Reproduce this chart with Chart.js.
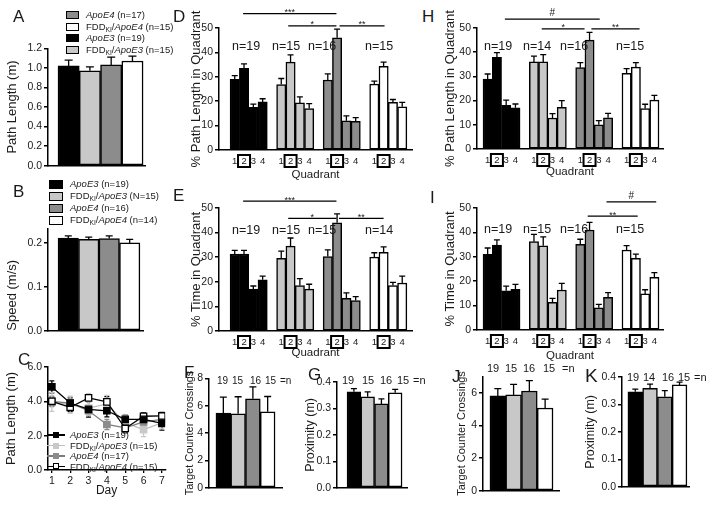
<!DOCTYPE html>
<html>
<head>
<meta charset="utf-8">
<script src="https://cdn.jsdelivr.net/npm/chart.js@4.4.1/dist/chart.umd.min.js"></script>
<style>
  body { margin: 0; width: 714px; height: 507px; background: #fff; position: relative; overflow: hidden;
         font-family: "Liberation Sans", Arial, sans-serif; color: #1a1a1a; }
  canvas { position: absolute; }
  .t { position: absolute; white-space: nowrap; line-height: 1; }
  .lg { position: absolute; font-size: 9.5px; white-space: nowrap; }
  .row { display: flex; align-items: center; }
  .row > span:last-child { line-height: 1; }
  .sw { display: inline-block; box-sizing: border-box; border: 1.5px solid #000; }
  sub { font-size: 70%; vertical-align: -0.3em; line-height: 0; }
  .lm { position: relative; display: inline-block; width: 18px; height: 8px; margin-right: 5px; }
  .lm i { position: absolute; left: 0; right: 0; top: 3.3px; height: 1.4px; }
  .lm b { position: absolute; left: 6px; top: 1px; width: 6px; height: 6px; box-sizing: border-box; border: 1.3px solid; }
</style>
</head>
<body>
<canvas id="cA" width="142" height="134" style="left:5px;top:40px"></canvas>
<canvas id="cB" width="140" height="119" style="left:5px;top:220px"></canvas>
<canvas id="cC" width="167" height="143" style="left:4px;top:355px"></canvas>
<canvas id="cD" width="225" height="182" style="left:189px;top:0px"></canvas>
<canvas id="cE" width="225" height="173" style="left:189px;top:187px"></canvas>
<canvas id="cF" width="101" height="126" style="left:183px;top:370px"></canvas>
<canvas id="cG" width="106" height="124" style="left:303px;top:372px"></canvas>
<canvas id="cH" width="222" height="179" style="left:443px;top:0px"></canvas>
<canvas id="cI" width="222" height="176" style="left:443px;top:187px"></canvas>
<canvas id="cJ" width="106" height="131" style="left:455px;top:368px"></canvas>
<canvas id="cK" width="108" height="127" style="left:583px;top:368px"></canvas>

<div class="lg" style="left:66px;top:9px">
  <div class="row" style="height:11.7px"><span class="sw" style="width:13px;height:8px;background:#8c8c8c;margin-right:7px"></span><span><i>ApoE4</i>&nbsp;(n=17)</span></div>
  <div class="row" style="height:11.7px"><span class="sw" style="width:13px;height:8px;background:#fff;margin-right:7px"></span><span>FDD<sub>KI</sub>/<i>ApoE4</i>&nbsp;(n=15)</span></div>
  <div class="row" style="height:11.7px"><span class="sw" style="width:13px;height:8px;background:#000;margin-right:7px"></span><span><i>ApoE3</i>&nbsp;(n=19)</span></div>
  <div class="row" style="height:11.7px"><span class="sw" style="width:13px;height:8px;background:#c8c8c8;margin-right:7px"></span><span>FDD<sub>KI</sub>/<i>ApoE3</i>&nbsp;(n=15)</span></div>
</div>
<div class="lg" style="left:49px;top:178px">
  <div class="row" style="height:12px"><span class="sw" style="width:14px;height:9px;background:#000;margin-right:7px"></span><span><i>ApoE3</i>&nbsp;(n=19)</span></div>
  <div class="row" style="height:12px"><span class="sw" style="width:14px;height:9px;background:#c8c8c8;margin-right:7px"></span><span>FDD<sub>KI</sub>/<i>ApoE3</i>&nbsp;(N=15)</span></div>
  <div class="row" style="height:12px"><span class="sw" style="width:14px;height:9px;background:#8c8c8c;margin-right:7px"></span><span><i>ApoE4</i>&nbsp;(n=16)</span></div>
  <div class="row" style="height:12px"><span class="sw" style="width:14px;height:9px;background:#fff;margin-right:7px"></span><span>FDD<sub>KI</sub>/<i>ApoE4</i>&nbsp;(n=14)</span></div>
</div>
<div class="lg" style="left:47px;top:430px">
  <div class="row" style="height:10.4px"><span class="lm"><i style="background:#000"></i><b style="background:#000;border-color:#000"></b></span><span><i>ApoE3</i>&nbsp;(n=19)</span></div>
  <div class="row" style="height:10.4px"><span class="lm"><i style="background:#bdbdbd"></i><b style="background:#c8c8c8;border-color:#c8c8c8"></b></span><span>FDD<sub>KI</sub>/<i>ApoE3</i>&nbsp;(n=15)</span></div>
  <div class="row" style="height:10.4px"><span class="lm"><i style="background:#7d7d7d"></i><b style="background:#8c8c8c;border-color:#8c8c8c"></b></span><span><i>ApoE4</i>&nbsp;(n=17)</span></div>
  <div class="row" style="height:10.4px"><span class="lm"><i style="background:#000"></i><b style="background:#fff;border-color:#000"></b></span><span>FDD<sub>KI</sub>/<i>ApoE4</i>&nbsp;(n=15)</span></div>
</div>

<script>
  "use strict";
  // groups, in bar order
  const groups = ["ApoE3", "FDDKI/ApoE3", "ApoE4", "FDDKI/ApoE4"];
  const groupColors = ["#000000", "#c8c8c8", "#8c8c8c", "#ffffff"];
  const quadrants = ["1", "2", "3", "4"];

  // A: path length (m)
  const pathLenA = [1.02, 0.97, 1.03, 1.07];
  const pathLenAErr = [0.06, 0.04, 0.08, 0.05];
  // B: speed (m/s)
  const speedB = [0.211, 0.208, 0.21, 0.2];
  const speedBErr = [0.005, 0.005, 0.006, 0.008];

  // C: path length per training day
  const days = [1, 2, 3, 4, 5, 6, 7];
  const dayApoE3 = [4.84, 3.9, 3.53, 3.45, 2.95, 2.95, 2.72];
  const dayApoE3Err = [0.35, 0.3, 0.45, 0.35, 0.25, 0.3, 0.4];
  const dayFddE3 = [3.97, 3.8, 3.6, 3.85, 2.75, 2.35, 2.75];
  const dayFddE3Err = [0.55, 0.5, 0.4, 0.5, 0.45, 0.4, 0.35];
  const dayApoE4 = [4.0, 3.9, 3.45, 2.65, 2.45, 2.8, 2.95];
  const dayApoE4Err = [0.3, 0.35, 0.3, 0.3, 0.3, 0.35, 0.3];
  const dayFddE4 = [4.0, 3.65, 4.2, 3.97, 2.42, 3.13, 3.15];
  const dayFddE4Err = [0.25, 0.25, 0.2, 0.3, 0.25, 0.2, 0.2];

  // D/E/H/I: quadrant 1-4 per group
  const pathQuadD = [29, 33.5, 17.5, 19.7, 26.8, 36, 19.3, 17, 28.7, 46, 12, 11.8, 27, 34.3, 19.5, 17.7];
  const pathQuadDErr = [1.5, 1.8, 1.3, 1.3, 2.5, 3, 2.5, 2, 2.5, 3.5, 2, 1.5, 1.2, 1.7, 1.2, 1.8];
  const timeQuadE = [31.3, 31.3, 17, 20.8, 29.5, 34.5, 18.5, 17, 30.3, 44, 13.3, 12.4, 30, 32, 18.5, 19.5];
  const timeQuadEErr = [1.5, 1.5, 1.3, 1.5, 3, 3.3, 2.8, 2, 2.7, 3.6, 2.2, 1.6, 1.8, 2.2, 1.3, 2.8];
  const pathQuadH = [28.9, 37.9, 18, 17, 36, 36, 12.8, 17.2, 33.6, 45, 10, 12.9, 31.3, 33.8, 16.7, 20.2];
  const pathQuadHErr = [2.1, 1.9, 2.2, 1.6, 2.4, 3, 1.8, 2.8, 2.1, 3.2, 1.7, 1.8, 1.9, 1.9, 1.8, 2];
  const timeQuadI = [31, 34.8, 16.1, 16.7, 36.2, 34.5, 11.3, 16.4, 35.1, 41, 9.1, 13.4, 32.8, 29.4, 14.8, 21.6];
  const timeQuadIErr = [2.6, 2.1, 1.9, 2, 3, 3.7, 1.7, 2.7, 2.1, 3.1, 1.4, 1.9, 1.8, 1.7, 1.7, 1.9];

  // F/J: target counter crossings, G/K: proximity (m)
  const crossF = [5.45, 5.4, 6.5, 5.55];
  const crossFErr = [1.18, 1.25, 0.87, 1.12];
  const proxG = [0.363, 0.344, 0.317, 0.359];
  const proxGErr = [0.012, 0.019, 0.019, 0.013];
  const crossJ = [5.8, 5.86, 6.1, 5.06];
  const crossJErr = [0.45, 0.64, 0.64, 0.54];
  const proxK = [0.346, 0.359, 0.328, 0.371];
  const proxKErr = [0.01, 0.015, 0.022, 0.01];

  // group sizes
  const nD = ["n=19", "n=15", "n=16", "n=15"];
  const nE = ["n=19", "n=15", "n=15", "n=14"];
  const nH = ["n=19", "n=14", "n=16", "n=15"];
  const nI = ["n=19", "n=15", "n=16", "n=15"];
  const nF = ["19", "15", "16", "15", "=n"];
  const nG = ["19", "15", "16", "15", "=n"];
  const nJ = ["19", "15", "16", "15", "=n"];
  const nK = ["19", "14", "16", "15", "=n"];

  // significance brackets (bar slot from/to, y level in axis units)
  const sigMarks = {
    cD: [{ from: 0.9, to: 10.93, level: 55.9, mark: "***" }, { from: 5.75, to: 10.93, level: 50.9, mark: "*" }, { from: 11.26, to: 16.1, level: 50.9, mark: "**" }],
    cE: [{ from: 0.9, to: 10.93, level: 52.8, mark: "***" }, { from: 5.75, to: 10.93, level: 45.8, mark: "*" }, { from: 11.2, to: 16.0, level: 45.8, mark: "**" }],
    cH: [{ from: 1.86, to: 12.1, level: 53.7, mark: "#" }, { from: 5.84, to: 10.46, level: 49.6, mark: "*" }, { from: 11.2, to: 16.4, level: 49.6, mark: "**" }],
    cI: [{ from: 12.83, to: 18.2, level: 52.5, mark: "#" }, { from: 10.8, to: 16.2, level: 46.7, mark: "**" }]
  };

  Chart.defaults.font.family = "'Liberation Sans', Arial, sans-serif";
  Chart.defaults.color = "#1a1a1a";

  function drawErr(chart) {
    const ctx = chart.ctx;
    const ys = chart.scales.y;
    chart.data.datasets.forEach((ds, di) => {
      if (!ds.err) return;
      const meta = chart.getDatasetMeta(di);
      ctx.save();
      ctx.strokeStyle = ds.errColor || "#000";
      ctx.lineWidth = 1.3;
      meta.data.forEach((el, i) => {
        const v = ds.data[i].y;
        const e = ds.err[i];
        const top = ys.getPixelForValue(v + e);
        const bot = ds.errBoth ? ys.getPixelForValue(v - e) : el.y;
        const h = (ds.cap || 6) / 2;
        ctx.beginPath();
        ctx.moveTo(el.x, bot);
        ctx.lineTo(el.x, top);
        ctx.moveTo(el.x - h, top);
        ctx.lineTo(el.x + h, top);
        if (ds.errBoth) {
          ctx.moveTo(el.x - h, bot);
          ctx.lineTo(el.x + h, bot);
        }
        ctx.stroke();
      });
      ctx.restore();
    });
  }

  const errorBars = {
    id: "errorBars",
    beforeDatasetsDraw(chart, args, opts) { if (opts.under) drawErr(chart); },
    afterDatasetsDraw(chart, args, opts) { if (!opts.under) drawErr(chart); }
  };

  const sigLines = {
    id: "sigLines",
    afterDraw(chart) {
      const list = sigMarks[chart.canvas.id];
      if (!list) return;
      const { ctx, scales: { x, y } } = chart;
      ctx.save();
      ctx.strokeStyle = "#000";
      ctx.lineWidth = 1.2;
      ctx.fillStyle = "#1a1a1a";
      ctx.textAlign = "center";
      list.forEach((s) => {
        const x1 = x.getPixelForValue(s.from);
        const x2 = x.getPixelForValue(s.to);
        const py = y.getPixelForValue(s.level);
        ctx.beginPath();
        ctx.moveTo(x1, py);
        ctx.lineTo(x2, py);
        ctx.stroke();
        const hash = s.mark.includes("#");
        ctx.font = (hash ? "10px" : "9px") + " 'Liberation Sans', Arial";
        ctx.fillText(s.mark, (x1 + x2) / 2, py + (hash ? -3 : 1.5));
      });
      ctx.restore();
    }
  };

  // quadrant numbers under the bars, target quadrant boxed
  const quadLabels = {
    id: "quadLabels",
    afterDraw(chart) {
      const xs = chart.scales.x;
      const ctx = chart.ctx;
      const cy = xs.top + 11;
      ctx.save();
      ctx.strokeStyle = "#000";
      ctx.fillStyle = "#1a1a1a";
      ctx.lineWidth = 2;
      ctx.font = "9.5px 'Liberation Sans', Arial";
      ctx.textAlign = "center";
      ctx.textBaseline = "middle";
      xs.ticks.forEach((t, i) => {
        const px = xs.getPixelForTick(i);
        const lab = quadrants[t.value % 5];
        ctx.fillText(lab, px, cy + 0.5);
        if (lab === "2") ctx.strokeRect(px - 6, cy - 6, 12, 12);
      });
      ctx.restore();
    }
  };

  function barPanel(id, o) {
    const isQuad = o.values.length > 4;
    const slots = o.values.map((v, i) => (isQuad ? Math.floor(i / 4) * 5 + (i % 4) : i));
    const pts = o.values.map((v, i) => ({ x: slots[i], y: v }));
    const plugins = [errorBars, sigLines];
    if (isQuad) plugins.push(quadLabels);
    return new Chart(document.getElementById(id), {
      type: "bar",
      data: {
        datasets: [{
          data: pts,
          err: o.errors,
          cap: o.cap || 6,
          backgroundColor: o.values.map((v, i) => groupColors[isQuad ? Math.floor(i / 4) : i]),
          borderColor: "#000",
          borderWidth: 1.5,
          borderSkipped: false,
          barPercentage: 1,
          categoryPercentage: 1
        }]
      },
      options: {
        responsive: false,
        animation: false,
        devicePixelRatio: 1,
        events: [],
        layout: { padding: { top: o.padTop, right: 2, bottom: isQuad ? 0 : 7, left: 0 } },
        plugins: { legend: { display: false }, tooltip: { enabled: false } },
        scales: {
          x: {
            type: "linear",
            offset: false,
            min: o.xMin,
            max: o.xMax,
            grid: { display: false, drawTicks: false },
            border: { color: "#000", width: 1.5 },
            afterBuildTicks: (s) => { s.ticks = slots.map((v) => ({ value: v })); },
            ticks: { display: false },
            title: { display: isQuad, text: "Quadrant", font: { size: 11.5 }, color: "#1a1a1a", padding: 0 },
            afterFit: (s) => { s.height = isQuad ? o.xHeight : 0; }
          },
          y: {
            min: 0,
            max: o.yMax,
            afterBuildTicks: (s) => { s.ticks = o.yTicks.map((v) => ({ value: v })); },
            grid: { drawOnChartArea: false, tickLength: 4, color: "#000", lineWidth: 1.5 },
            border: { color: "#000", width: 1.5 },
            ticks: { padding: 2, font: { size: 10.5 }, color: "#1a1a1a", callback: (v) => v.toFixed(o.dec) },
            title: { display: true, text: o.yTitle, align: o.titleAlign || "center", font: { size: o.titleSize || 13 },
                     color: "#1a1a1a", padding: 0 },
            afterFit: (s) => { s.width = o.yWidth; }
          }
        }
      },
      plugins
    });
  }

  const quadTicks = [0, 10, 20, 30, 40, 50];
  barPanel("cA", { values: pathLenA, errors: pathLenAErr, cap: 8, xMin: -0.97, xMax: 3.59, yMax: 1.2,
    yTicks: [0, 0.2, 0.4, 0.6, 0.8, 1.0, 1.2], dec: 1, yTitle: "Path Length (m)", yWidth: 43, padTop: 8 });
  barPanel("cB", { values: speedB, errors: speedBErr, cap: 7, xMin: -0.99, xMax: 3.65, yMax: 0.2333,
    yTicks: [0, 0.1, 0.2], dec: 1, yTitle: "Speed (m/s)", titleAlign: "start", yWidth: 43, padTop: 7 });
  barPanel("cD", { values: pathQuadD, errors: pathQuadDErr, xMin: -1.69, xMax: 19.05, yMax: 50, yTicks: quadTicks,
    dec: 0, yTitle: "% Path Length in Quadrant", yWidth: 30, padTop: 28, xHeight: 32 });
  barPanel("cE", { values: timeQuadE, errors: timeQuadEErr, xMin: -1.69, xMax: 19.05, yMax: 50, yTicks: quadTicks,
    dec: 0, yTitle: "% Time in Quadrant", yWidth: 30, padTop: 21, xHeight: 29 });
  barPanel("cH", { values: pathQuadH, errors: pathQuadHErr, xMin: -1.15, xMax: 18.93, yMax: 50, yTicks: quadTicks,
    dec: 0, yTitle: "% Path Length in Quadrant", yWidth: 34, padTop: 28, xHeight: 30 });
  barPanel("cI", { values: timeQuadI, errors: timeQuadIErr, xMin: -1.15, xMax: 18.93, yMax: 50, yTicks: quadTicks,
    dec: 0, yTitle: "% Time in Quadrant", yWidth: 34, padTop: 21, xHeight: 33 });
  barPanel("cF", { values: crossF, errors: crossFErr, cap: 7, xMin: -0.97, xMax: 3.97, yMax: 8, yTicks: [0, 2, 4, 6, 8],
    dec: 0, yTitle: "Target Counter Crossings", titleSize: 11, yWidth: 26, padTop: 7 });
  barPanel("cG", { values: proxG, errors: proxGErr, xMin: -1.23, xMax: 3.86, yMax: 0.4, yTicks: [0, 0.1, 0.2, 0.3, 0.4],
    dec: 1, yTitle: "Proximity (m)", titleSize: 12.5, yWidth: 34, padTop: 10 });
  barPanel("cJ", { values: crossJ, errors: crossJErr, cap: 7, xMin: -0.94, xMax: 3.88, yMax: 7, yTicks: [0, 2, 4, 6],
    dec: 0, yTitle: "Target Counter Crossings", titleSize: 11, yWidth: 28, padTop: 7 });
  barPanel("cK", { values: proxK, errors: proxKErr, xMin: -0.9, xMax: 3.64, yMax: 0.4, yTicks: [0, 0.1, 0.2, 0.3, 0.4],
    dec: 1, yTitle: "Proximity (m)", titleSize: 12.5, yWidth: 39, padTop: 9 });

  // C: learning curves
  function daySeries(values, errs, line, fill, edge) {
    return {
      data: days.map((d, i) => ({ x: d, y: values[i] })),
      err: errs, errBoth: true, errColor: line === "#000" ? "#000" : fill, cap: 5,
      borderColor: line, borderWidth: 1.3, tension: 0, fill: false,
      pointStyle: "rect", pointRadius: 4.5, pointBorderWidth: 1.3,
      pointBackgroundColor: fill, pointBorderColor: edge
    };
  }
  new Chart(document.getElementById("cC"), {
    type: "line",
    data: {
      datasets: [
        daySeries(dayApoE3, dayApoE3Err, "#000", "#000", "#000"),
        daySeries(dayFddE4, dayFddE4Err, "#000", "#fff", "#000"),
        daySeries(dayApoE4, dayApoE4Err, "#7d7d7d", "#8c8c8c", "#8c8c8c"),
        daySeries(dayFddE3, dayFddE3Err, "#bdbdbd", "#c8c8c8", "#c8c8c8")
      ]
    },
    options: {
      responsive: false,
      animation: false,
      devicePixelRatio: 1,
      events: [],
      layout: { padding: { top: 12, right: 3, bottom: 0, left: 0 } },
      plugins: { legend: { display: false }, tooltip: { enabled: false }, errorBars: { under: true } },
      scales: {
        x: {
          type: "linear", offset: false, min: 0.79, max: 7.18,
          afterBuildTicks: (s) => { s.ticks = days.map((v) => ({ value: v })); },
          grid: { drawOnChartArea: false, tickLength: 3, color: "#000", lineWidth: 1.3 },
          border: { color: "#000", width: 1.5 },
          ticks: { padding: 2, font: { size: 10.5 }, color: "#1a1a1a", maxRotation: 0 },
          title: { display: true, text: "Day", font: { size: 12 }, color: "#1a1a1a", padding: 0 },
          afterFit: (s) => { s.height = 28; }
        },
        y: {
          min: 0, max: 6,
          afterBuildTicks: (s) => { s.ticks = [0, 2, 4, 6].map((v) => ({ value: v })); },
          grid: { drawOnChartArea: false, tickLength: 4, color: "#000", lineWidth: 1.5 },
          border: { color: "#000", width: 1.5 },
          ticks: { padding: 2, font: { size: 10.5 }, color: "#1a1a1a", callback: (v) => v.toFixed(1) },
          title: { display: true, text: "Path Length (m)", font: { size: 13 }, color: "#1a1a1a", padding: 0 },
          afterFit: (s) => { s.width = 44; }
        }
      }
    },
    plugins: [errorBars]
  });

  // text overlays: panel letters and n labels
  function txt(html, left, top, size) {
    const d = document.createElement("div");
    d.className = "t";
    d.style.left = left + "px";
    d.style.top = top + "px";
    d.style.fontSize = size + "px";
    d.innerHTML = html;
    document.body.appendChild(d);
  }
  [["A", 13, 8], ["B", 13, 183], ["C", 18, 351], ["D", 173, 8], ["E", 173, 187], ["F", 184, 364],
   ["G", 308, 366], ["H", 422, 8], ["I", 430, 189], ["J", 452, 368]].forEach((l) => txt(l[0], l[1], l[2], 17));
  txt("K", 585, 366, 19);

  nD.forEach((s, i) => txt(s, [232, 272, 308, 365][i], 40, 12.5));
  nE.forEach((s, i) => txt(s, [232, 272, 308, 365][i], 224, 12.5));
  nH.forEach((s, i) => txt(s, [484, 523, 560, 616][i], 40, 12.5));
  nI.forEach((s, i) => txt(s, [484, 523, 560, 616][i], 223, 12.5));
  nF.forEach((s, i) => txt(s, [217, 232, 250, 265, 280][i], 376, 10));
  nG.forEach((s, i) => txt(s, [342, 362, 380, 397, 413][i], 374.5, 11));
  nJ.forEach((s, i) => txt(s, [487, 505, 523, 543, 562][i], 362.5, 11));
  nK.forEach((s, i) => txt(s, [627, 643, 662, 678, 694][i], 372, 11));
</script>
</body>
</html>
